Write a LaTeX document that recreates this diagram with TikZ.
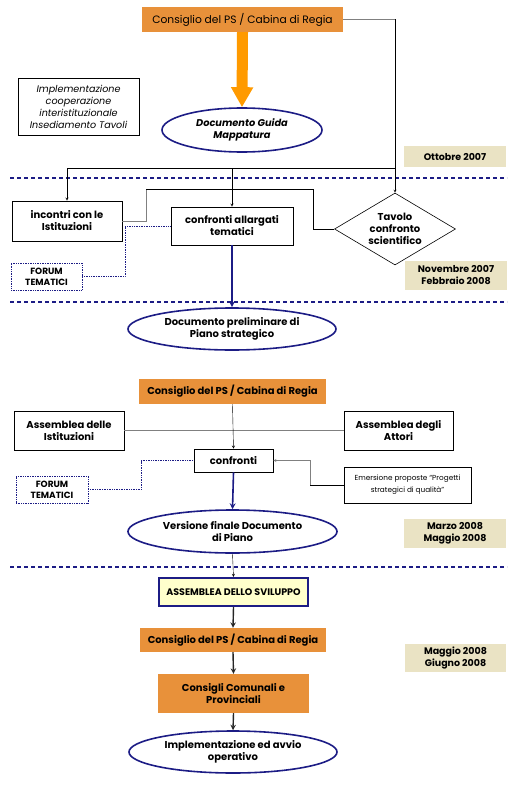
\documentclass[tikz,border=0pt]{standalone}
\usepackage{fontspec}
\setmainfont{Poppins}
\usetikzlibrary{shapes.geometric,arrows.meta}
\definecolor{arancio}{HTML}{E8913A}
\definecolor{freccia}{HTML}{FF9A00}
\definecolor{blu}{HTML}{1C1C85}
\definecolor{sabbia}{HTML}{EAE3C4}
\definecolor{giallino}{HTML}{FFFFCC}
\tikzset{
  base/.style={inner sep=0pt, align=center, font=\fontsize{10}{12}\selectfont\bfseries},
  consiglio/.style={base, fill=arancio},
  riquadro/.style={base, draw, line width=.7pt},
  periodo/.style={base, fill=sabbia, font=\fontsize{9.5}{12}\selectfont\bfseries},
  documento/.style={base, ellipse, draw=blu, line width=1.6pt},
  forum/.style={base, draw=blu, densely dotted, line width=.7pt, font=\fontsize{9}{11}\selectfont\bfseries},
  separa/.style={blu, line width=1.1pt, dash pattern=on 4pt off 3pt},
}
\begin{document}
\begin{tikzpicture}[>=stealth, x=1pt, y=-1pt]
\useasboundingbox (0,0) rectangle (515,800);

% prima fase
\node[consiglio, font=\fontsize{10.7}{12}\selectfont, minimum width=201, minimum height=25] (cps1) at (242.5,19.5) {Consiglio del PS / Cabina di Regia};
\node[riquadro, font=\fontsize{9.6}{12}\selectfont\itshape, minimum width=121, minimum height=57] (impl) at (78.5,106.5) {Implementazione\\cooperazione\\interistituzionale\\Insediamento Tavoli};
\node[documento, font=\fontsize{9.8}{12}\selectfont\bfseries\itshape, minimum width=160, minimum height=44] (guida) at (242,130) {Documento Guida\\Mappatura};
\node[periodo, minimum width=102, minimum height=21] (ott) at (455,156.5) {Ottobre 2007};
\draw[freccia, line width=11pt, -{Triangle[length=20pt,width=21pt]}] (cps1.south) -- (guida.north);

\draw[separa] (10,178) -- (507,178);

\node[riquadro, minimum width=110, minimum height=40] (incontri) at (67,221) {incontri con le\\Istituzioni};
\node[riquadro, minimum width=122, minimum height=38] (allargati) at (232,226) {confronti allargati\\tematici};
\node[base, diamond, draw, line width=.6pt, aspect=1.68, minimum width=121, minimum height=72] (tavolo) at (395,229) {Tavolo\\confronto\\scientifico};
\node[forum, minimum width=71, minimum height=27] (forum1) at (46.5,276.5) {FORUM\\TEMATICI};
\node[periodo, minimum width=102, minimum height=29] (nov) at (456,275.5) {Novembre 2007\\Febbraio 2008};

\coordinate (snodo) at (395,168);
\coordinate (gomito) at (395,19.5);
\draw[gray] (cps1.east) -- (gomito);
\draw[->] (gomito) -- (tavolo.north);
\draw (incontri.north |- snodo) -- (snodo);
\draw[->] (incontri.north |- snodo) -- (incontri.north);
\draw[->] (allargati.north |- snodo) -- (allargati.north);
\draw[gray] (incontri.east) -- (146,221) -- (146,189);
\draw (146,189) -- (313,189) -- (313,229) -- (tavolo.west);
\draw[blu, densely dotted, line width=.7pt] (forum1.east) -- (125,276.5) -- (125,226) -- (allargati.west);

\draw[separa] (10,302) -- (507,302);

\node[documento, minimum width=208, minimum height=42] (preliminare) at (232,329) {Documento preliminare di\\Piano strategico};
\draw[->, blu, line width=1.6pt] (allargati.south) -- (preliminare.north);

% seconda fase
\node[consiglio, minimum width=187, minimum height=25] (cps2) at (232.5,391.5) {Consiglio del PS / Cabina di Regia};
\node[riquadro, minimum width=110, minimum height=39] (assI) at (69,430.5) {Assemblea delle\\Istituzioni};
\node[riquadro, minimum width=109, minimum height=39] (assA) at (398.5,430.5) {Assemblea degli\\Attori};
\node[riquadro, minimum width=79, minimum height=23] (confronti) at (233.5,460.5) {confronti};
\node[riquadro, font=\fontsize{7.3}{12}\selectfont, minimum width=127, minimum height=36] (emersione) at (407.5,485) {Emersione proposte “Progetti\\strategici di qualità”};
\node[forum, minimum width=72, minimum height=27] (forum2) at (52,489.5) {FORUM\\TEMATICI};
\node[documento, minimum width=209, minimum height=43] (finale) at (232.5,531.5) {Versione finale Documento\\di Piano};
\node[periodo, minimum width=102, minimum height=29] (mar) at (455,533.5) {Marzo 2008\\Maggio 2008};

\draw[gray] (assI.east) -- (assA.west);
\draw[->] (cps2.south) -- (confronti.north);
\draw (emersione.west) -- (310,485);
\draw[->, gray] (310,485) |- (confronti.east);
\draw[blu, densely dotted, line width=.7pt] (forum2.east) -- (141,489.5) |- (confronti.west);
\draw[->, blu, line width=1.6pt] (confronti.south) -- (finale.north);

\draw[separa] (10,567) -- (507,567);

% terza fase
\node[base, fill=giallino, draw=blu, line width=2.2pt, font=\fontsize{9.5}{10}\selectfont\bfseries, minimum width=149, minimum height=28] (sviluppo) at (233.5,592) {ASSEMBLEA DELLO SVILUPPO};
\node[consiglio, minimum width=186, minimum height=24] (cps3) at (233,640) {Consiglio del PS / Cabina di Regia};
\node[consiglio, minimum width=151, minimum height=39] (comuni) at (233.5,693.5) {Consigli Comunali e\\Provinciali};
\node[documento, minimum width=208, minimum height=42] (avvio) at (233,752) {Implementazione ed avvio\\operativo};
\node[periodo, minimum width=101, minimum height=28] (mag) at (455.5,658) {Maggio 2008\\Giugno 2008};

\draw[->] (finale.south) -- (sviluppo.north);
\draw[->, gray!30!black, line width=1.4pt] (sviluppo.south) -- (cps3.north);
\draw[->, gray!30!black, line width=1.4pt] (cps3.south) -- (comuni.north);
\draw[->, gray!30!black, line width=1.4pt] (comuni.south) -- (avvio.north);
\end{tikzpicture}
\end{document}
